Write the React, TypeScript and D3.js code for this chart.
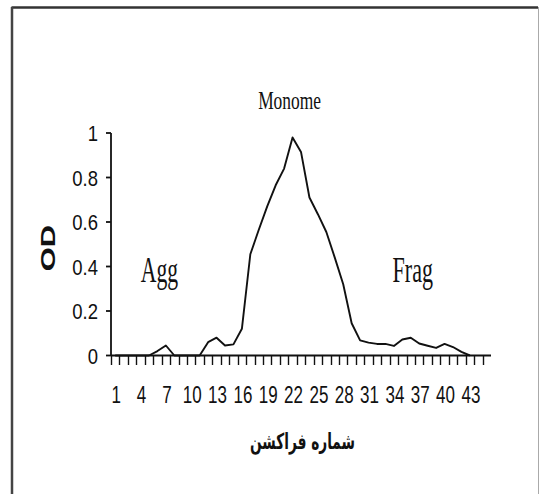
import { useEffect, useRef } from 'react';
import * as d3 from 'd3';

// fraction numbers on the category axis (1..45), labels every third one
const fractions: number[] = Array.from({ length: 45 }, (_, i) => i + 1);
const xTickLabels: number[] = [1, 4, 7, 10, 13, 16, 19, 22, 25, 28, 31, 34, 37, 40, 43];
const yTicks: number[] = [0, 0.2, 0.4, 0.6, 0.8, 1];

// OD per fraction, fractions 1..43
const odValues: number[] = [
  0, 0, 0, 0, 0, 0.02, 0.045, 0, 0, 0,
  0, 0.06, 0.08, 0.045, 0.05, 0.12, 0.455, 0.565, 0.67, 0.765,
  0.84, 0.98, 0.915, 0.71, 0.635, 0.555, 0.44, 0.32, 0.145, 0.068,
  0.058, 0.052, 0.052, 0.043, 0.072, 0.08, 0.054, 0.044, 0.034, 0.052,
  0.038, 0.016, 0,
];

// peak annotations: name, fraction and OD level they sit at
const peakNames: string[] = ['Monome', 'Agg', 'Frag'];
const peakFractions: number[] = [22, 6, 36];
const peakLevels: number[] = [1.11, 0.33, 0.33];

function App() {
  const svgRef = useRef<SVGSVGElement | null>(null);

  useEffect(() => {
    if (!svgRef.current) return;
    const svg = d3.select(svgRef.current);
    svg.selectAll('*').remove();

    const width = 539;
    const height = 494;
    const left = 111;
    const right = 491;
    const bottom = 355.5;
    const top = 133;
    const ink = '#111';

    const x = d3.scaleBand<number>().domain(fractions).range([left, right]);
    const y = d3.scaleLinear().domain([0, 1]).range([bottom, top]);
    const cx = (f: number) => (x(f) as number) + x.bandwidth() / 2;

    svg.append('rect').attr('width', width).attr('height', height).attr('fill', 'white');

    // frame around the figure
    svg.append('line').attr('x1', 11.5).attr('y1', 7.5).attr('x2', 538).attr('y2', 7.5)
      .attr('stroke', '#333').attr('stroke-width', 2.5);
    svg.append('line').attr('x1', 12).attr('y1', 7).attr('x2', 12).attr('y2', height)
      .attr('stroke', '#444').attr('stroke-width', 2.5);
    svg.append('line').attr('x1', 538.5).attr('y1', 7).attr('x2', 538.5).attr('y2', height)
      .attr('stroke', '#aaa').attr('stroke-width', 1);

    // stretched text helper (the original figure is squeezed horizontally)
    const addText = (
      tx: number, ty: number, str: string,
      o: { size: number; sx: number; family: string; weight?: string; anchor?: string; rotate?: number }
    ) => {
      const g = svg.append('g')
        .attr('transform', `translate(${tx},${ty}) rotate(${o.rotate || 0}) scale(${o.sx},1)`);
      return g.append('text')
        .attr('font-family', o.family)
        .attr('font-size', o.size)
        .attr('font-weight', o.weight || 'normal')
        .attr('text-anchor', o.anchor || 'middle')
        .attr('fill', ink)
        .text(str);
    };

    // y axis
    svg.append('line').attr('x1', left).attr('y1', top).attr('x2', left).attr('y2', bottom)
      .attr('stroke', ink).attr('stroke-width', 1.8);
    yTicks.forEach((t) => {
      svg.append('line').attr('x1', left - 5).attr('x2', left).attr('y1', y(t)).attr('y2', y(t))
        .attr('stroke', ink).attr('stroke-width', 1.8);
      addText(98, y(t) + 8, d3.format('~g')(t), {
        size: 22, sx: 0.84, family: 'Liberation Sans, Arial, sans-serif',
        anchor: 'end',
      });
    });

    // x axis
    svg.append('line').attr('x1', left).attr('y1', bottom).attr('x2', right).attr('y2', bottom)
      .attr('stroke', ink).attr('stroke-width', 2);
    fractions.forEach((f) => {
      const px = Math.round(x(f) as number) + 0.5;
      svg.append('line').attr('x1', px).attr('x2', px).attr('y1', bottom).attr('y2', bottom + 9.5)
        .attr('stroke', ink).attr('stroke-width', 1.4);
    });
    xTickLabels.forEach((f) => {
      addText(cx(f) + 1, 403, String(f), {
        size: 23, sx: 0.74, family: 'Liberation Sans, Arial, sans-serif',
      });
    });

    // OD curve
    const line = d3.line<number>()
      .x((_, i) => cx(fractions[i]))
      .y((d) => y(d));
    svg.append('path')
      .datum(odValues)
      .attr('d', line)
      .attr('fill', 'none')
      .attr('stroke', ink)
      .attr('stroke-width', 1.9)
      .attr('stroke-linejoin', 'round');

    // peak names (Monome is smaller than the side labels)
    const peakStyle = [
      { size: 26, sx: 0.67, dx: -3 },
      { size: 35, sx: 0.62, dx: 2 },
      { size: 35, sx: 0.63, dx: 2 },
    ];
    peakNames.forEach((name, i) => {
      const st = peakStyle[i];
      addText(cx(peakFractions[i]) + st.dx, y(peakLevels[i]), name, {
        size: st.size, sx: st.sx, family: 'Liberation Serif, Times New Roman, serif',
      });
    });

    // axis titles
    addText(55, 248, 'OD', {
      size: 20, sx: 1.55, family: 'Liberation Sans, Arial, sans-serif', weight: 'bold', rotate: -90,
    });
    svg.append('text')
      .attr('x', 302.5)
      .attr('y', 449)
      .attr('text-anchor', 'middle')
      .attr('font-family', 'DejaVu Sans, sans-serif')
      .attr('font-weight', 'bold')
      .attr('font-size', 22)
      .attr('textLength', 105)
      .attr('lengthAdjust', 'spacingAndGlyphs')
      .attr('fill', ink)
      .text('شماره فراکشن');

    return () => {
      d3.select(svgRef.current).selectAll('*').remove();
    };
  }, []);

  return (
    <svg
      ref={svgRef}
      width={539}
      height={494}
      style={{ position: 'absolute', left: 0, top: 0, display: 'block' }}
    ></svg>
  );
}

export default App;
